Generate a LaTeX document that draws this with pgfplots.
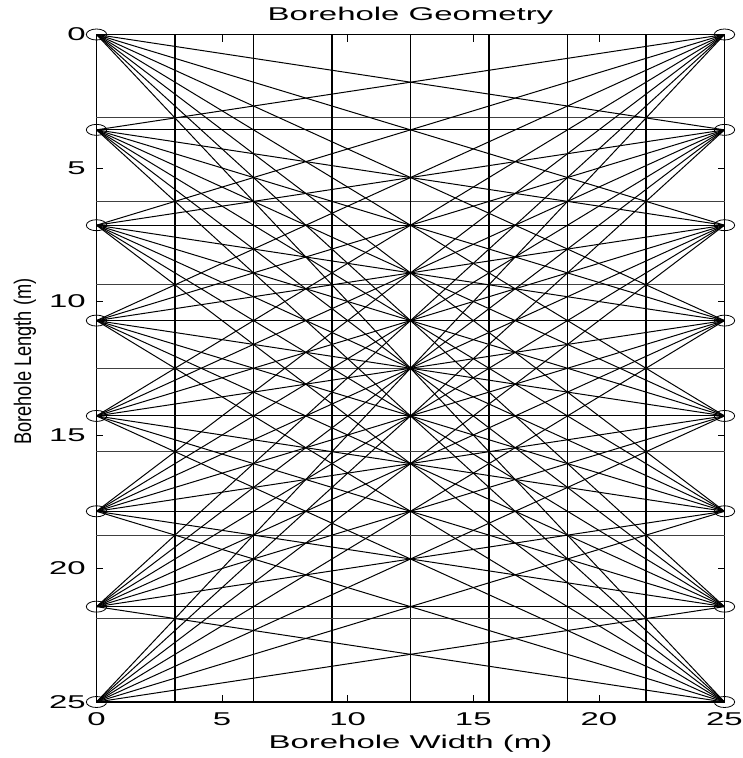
\documentclass[border=0pt]{standalone}
\usepackage{fontspec}
\setmainfont{Liberation Sans}[FakeStretch=1.78]
\newfontfamily\ylabfont{Liberation Sans}[FakeStretch=0.76]
\usepackage{pgfplots}
\pgfplotsset{compat=1.18}

\newcommand\hfont{\fontsize{18.5}{22}\selectfont}
% source (x = 0) and receiver (x = 25) depths along the two boreholes
\def\depths{0,3.5714,7.1429,10.7143,14.2857,17.8571,21.4286,25}
% cell boundaries of the 8 x 8 grid
\def\cells{3.125,6.25,9.375,12.5,15.625,18.75,21.875}

\begin{document}
\begin{tikzpicture}
\begin{axis}[
  scale only axis, width=628pt, height=667.5pt,
  xmin=0, xmax=25, ymin=0, ymax=25, y dir=reverse,
  xtick={0,5,...,25}, ytick={0,5,...,25},
  tick align=inside, major tick length=7pt,
  tick style={line width=0.8pt, black},
  axis line style={line width=1.8pt},
  clip=false,
  /pgf/number format/assume math mode=true,
  ticklabel style={font=\hfont, inner sep=0pt},
  xticklabel style={anchor=base, yshift=-23pt},
  yticklabel style={anchor=east, xshift=-10.5pt},
  title={Borehole Geometry},
  every axis title shift=0pt,
  title style={font=\hfont, at={(axis description cs:0.5,1)}, anchor=base, yshift=14.5pt, inner sep=0pt},
  xlabel={Borehole Width (m)},
  xlabel style={font=\hfont, at={(axis description cs:0.5,0)}, anchor=base, yshift=-46pt, inner sep=0pt},
  ylabel={Borehole Length (m)},
  ylabel style={font=\ylabfont\fontsize{24}{27}\selectfont, at={(axis description cs:-0.1043,0.510)}, anchor=base, inner sep=0pt},
]
% grid of cells
\foreach \c in \cells {
  \edef\tmp{\noexpand\addplot[black, line width=1.6pt] coordinates {(\c,0) (\c,25)};
            \noexpand\addplot[black!75, line width=1pt] coordinates {(0,\c) (25,\c)};}
  \tmp
}
% straight ray paths from every source to every receiver
\foreach \a in \depths {
  \foreach \b in \depths {
    \edef\tmp{\noexpand\addplot[black, line width=1pt] coordinates {(0,\a) (25,\b)};}
    \tmp
  }
}
% sources and receivers
\addplot[only marks, mark=o, mark size=5.5pt, mark options={xscale=1.85, line width=0.8pt, black}]
  coordinates {(0,0) (0,3.5714) (0,7.1429) (0,10.7143) (0,14.2857) (0,17.8571) (0,21.4286) (0,25)
               (25,0) (25,3.5714) (25,7.1429) (25,10.7143) (25,14.2857) (25,17.8571) (25,21.4286) (25,25)};
\coordinate (ll) at (axis description cs:0,0);
\coordinate (ur) at (axis description cs:1,1);
\end{axis}
\pgfresetboundingbox
\path ([shift={(-96.5pt,-56pt)}]ll) rectangle ([shift={(17.5pt,34.5pt)}]ur);
\end{tikzpicture}
\end{document}
